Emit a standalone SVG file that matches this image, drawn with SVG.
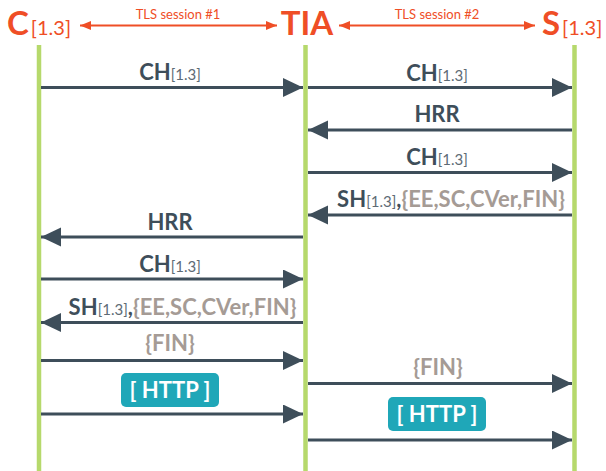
<svg xmlns="http://www.w3.org/2000/svg" width="606" height="471" viewBox="0 0 606 471">
<style>
.life{stroke:#b6d96c;stroke-width:4.5;fill:none}
.msg{stroke:#3e4e5a;stroke-width:3;fill:none}
.tls{stroke:#ef4e26;stroke-width:2;fill:none}
.hdr{font-family:Lato,"Open Sans","Liberation Sans",sans-serif;fill:#ef4e26}
.big{font-size:33px;font-weight:700}
.ver{font-size:20px;font-weight:400}
.tlslbl{font-family:Lato,"Open Sans","Liberation Sans",sans-serif;font-size:13px;fill:#ef4e26}
.lbl{font-family:Lato,"Open Sans","Liberation Sans",sans-serif;font-size:22px;font-weight:700;fill:#3e4e5a;text-anchor:middle}
.sub{font-size:15px;font-weight:400;fill:#5e6b75}
.enc{fill:#a59b95}
.badge{fill:#1fa7b8}
.btxt{font-family:Lato,"Open Sans","Liberation Sans",sans-serif;font-size:22px;font-weight:700;fill:#ffffff;text-anchor:middle}
</style>
<defs>
<marker id="ah" markerUnits="userSpaceOnUse" markerWidth="21" markerHeight="20" refX="20" refY="9.5" orient="auto">
<path d="M0,0 L20,9.5 L0,19 z" fill="#3e4e5a"/>
</marker>
<marker id="th" markerUnits="userSpaceOnUse" markerWidth="12" markerHeight="10" refX="11" refY="4.5" orient="auto-start-reverse">
<path d="M0,0 L11,4.5 L0,9 z" fill="#ef4e26"/>
</marker>
</defs>
<rect width="606" height="471" fill="#ffffff"/>

<g id="C">
<line class="life" x1="39" y1="45" x2="39" y2="471"/>
<text class="hdr" x="7" y="35"><tspan class="big">C</tspan><tspan class="ver" dx="2">[1.3]</tspan></text>
</g>
<g id="TIA">
<line class="life" x1="305.5" y1="45" x2="305.5" y2="471"/>
<text class="hdr big" x="307" y="35" text-anchor="middle">TIA</text>
</g>
<g id="S">
<line class="life" x1="574.5" y1="45" x2="574.5" y2="471"/>
<text class="hdr" x="542" y="35"><tspan class="big">S</tspan><tspan class="ver" dx="2">[1.3]</tspan></text>
</g>

<g id="tls-sessions">
<line class="tls" x1="80" y1="25.5" x2="277" y2="25.5" marker-start="url(#th)" marker-end="url(#th)"/>
<text class="tlslbl" x="178" y="19" text-anchor="middle">TLS session #1</text>
<line class="tls" x1="339" y1="25.5" x2="535" y2="25.5" marker-start="url(#th)" marker-end="url(#th)"/>
<text class="tlslbl" x="437" y="19" text-anchor="middle">TLS session #2</text>
</g>

<g id="connectors">
<line class="msg" x1="41" y1="87.5" x2="303" y2="87.5" marker-end="url(#ah)"/>
<line class="msg" x1="308" y1="87.5" x2="572" y2="87.5" marker-end="url(#ah)"/>
<line class="msg" x1="572" y1="130" x2="308" y2="130" marker-end="url(#ah)"/>
<line class="msg" x1="308" y1="172.5" x2="572" y2="172.5" marker-end="url(#ah)"/>
<line class="msg" x1="572" y1="215" x2="308" y2="215" marker-end="url(#ah)"/>
<line class="msg" x1="303" y1="237" x2="41" y2="237" marker-end="url(#ah)"/>
<line class="msg" x1="41" y1="279" x2="303" y2="279" marker-end="url(#ah)"/>
<line class="msg" x1="303" y1="322.5" x2="41" y2="322.5" marker-end="url(#ah)"/>
<line class="msg" x1="41" y1="360.5" x2="303" y2="360.5" marker-end="url(#ah)"/>
<line class="msg" x1="41" y1="414" x2="303" y2="414" marker-end="url(#ah)"/>
<line class="msg" x1="308" y1="383.5" x2="572" y2="383.5" marker-end="url(#ah)"/>
<line class="msg" x1="308" y1="440" x2="572" y2="440" marker-end="url(#ah)"/>
</g>

<g id="labels">
<text class="lbl" x="170" y="80">CH<tspan class="sub">[1.3]</tspan></text>
<text class="lbl" x="437" y="80.5">CH<tspan class="sub">[1.3]</tspan></text>
<text class="lbl" x="437" y="122">HRR</text>
<text class="lbl" x="437" y="165">CH<tspan class="sub">[1.3]</tspan></text>
<text class="lbl" x="451" y="207">SH<tspan class="sub">[1.3]</tspan>,<tspan class="enc">{EE,SC,CVer,FIN}</tspan></text>
<text class="lbl" x="170" y="230">HRR</text>
<text class="lbl" x="170" y="272">CH<tspan class="sub">[1.3]</tspan></text>
<text class="lbl" x="182.5" y="315">SH<tspan class="sub">[1.3]</tspan>,<tspan class="enc">{EE,SC,CVer,FIN}</tspan></text>
<text class="lbl enc" x="170" y="351">{FIN}</text>
<text class="lbl enc" x="438" y="375">{FIN}</text>
</g>

<g id="http1">
<rect class="badge" x="121" y="373" width="98" height="34" rx="5"/>
<text class="btxt" x="170" y="398">[ HTTP ]</text>
</g>
<g id="http2">
<rect class="badge" x="388" y="397" width="98" height="34" rx="5"/>
<text class="btxt" x="437" y="422">[ HTTP ]</text>
</g>
</svg>
